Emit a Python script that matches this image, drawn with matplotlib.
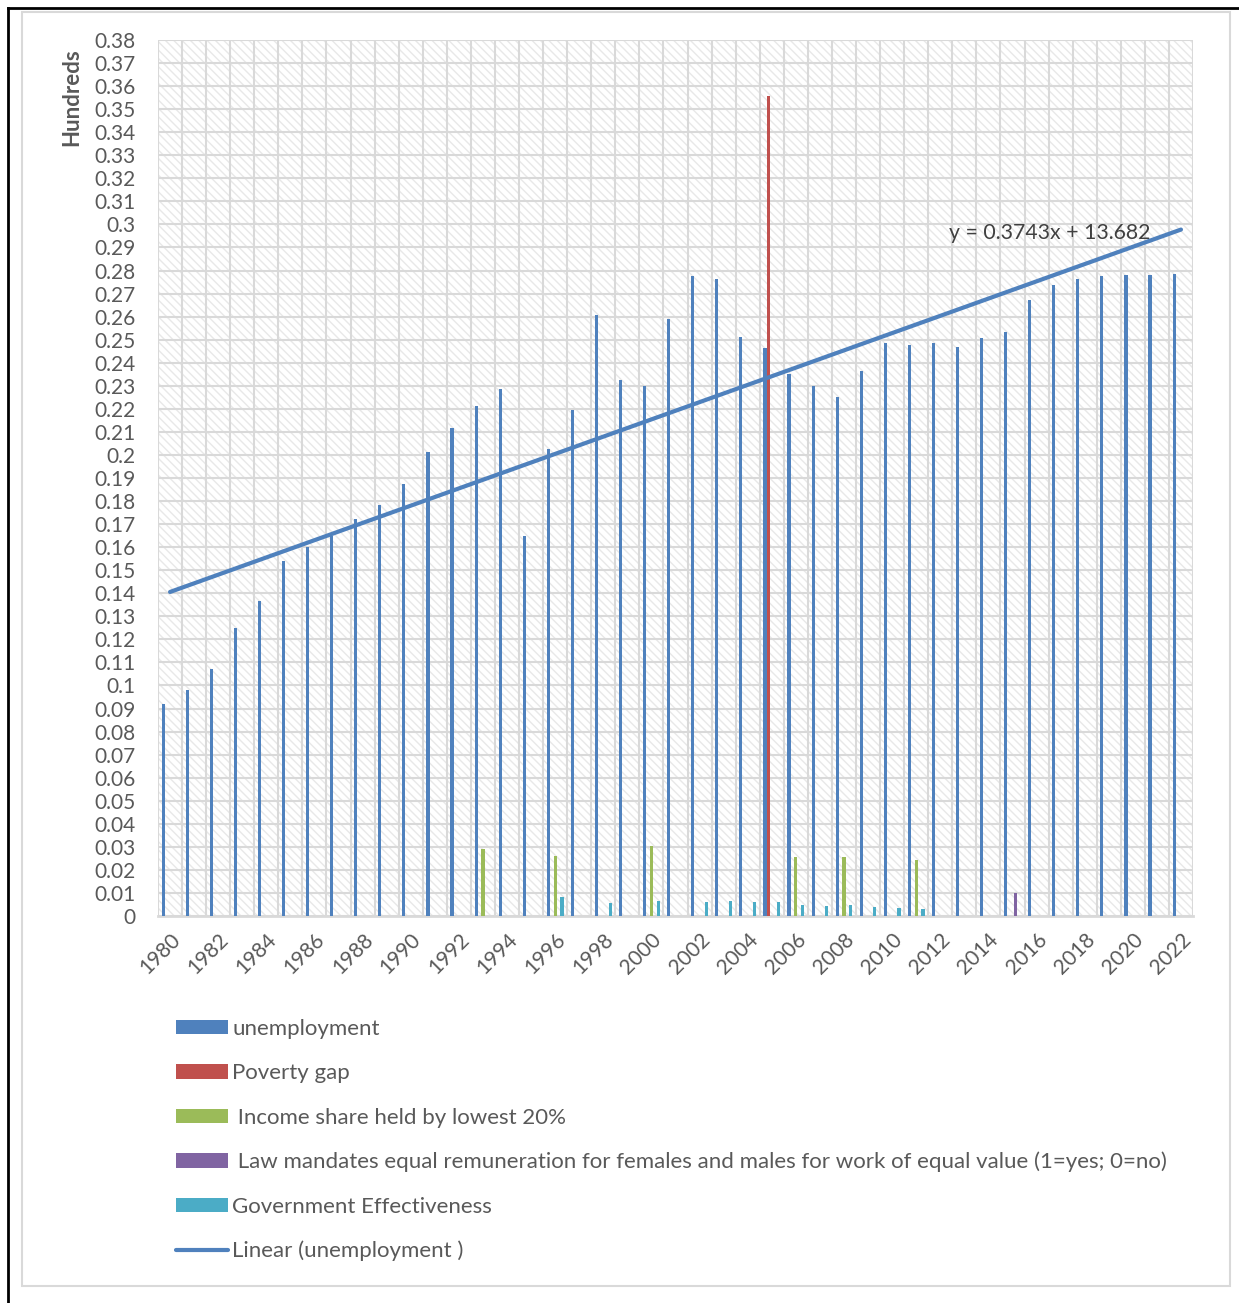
import matplotlib
matplotlib.use("Agg")
import matplotlib.pyplot as plt
import numpy as np
from matplotlib.patches import Rectangle
from matplotlib.lines import Line2D

plt.rcParams['font.family'] = ['Lato', 'DejaVu Sans']
plt.rcParams['hatch.linewidth'] = 1.0

# values in percent, axis shows them in hundreds
years = list(range(1980, 2023))
unemployment = [9.21, 9.79, 10.72, 12.51, 13.67, 15.41, 15.99, 16.48, 17.20, 17.81,
                18.74, 20.14, 21.17, 22.14, 22.86, 16.48, 20.26, 21.96, 26.07, 23.27,
                22.98, 25.91, 27.78, 27.64, 25.12, 24.63, 23.51, 22.98, 22.50, 23.66,
                24.85, 24.77, 24.85, 24.70, 25.08, 25.32, 26.70, 27.36, 27.64, 27.77,
                27.81, 27.81, 27.84]

poverty_years = [2005]
poverty_gap = [35.58]

income_years = [1993, 1996, 2000, 2006, 2008, 2011]
income_share = [2.89, 2.61, 3.02, 2.54, 2.55, 2.41]

law_years = [2015]
law_equal_pay = [1.0]

gov_years = [1996, 1998, 2000, 2002, 2003, 2004, 2005, 2006, 2007, 2008, 2009, 2010, 2011]
gov_effectiveness = [0.83, 0.55, 0.64, 0.60, 0.64, 0.62, 0.61, 0.47, 0.45, 0.49, 0.41, 0.34, 0.32]

trend_slope = 0.3743
trend_intercept = 13.682

series = [
    ("unemployment", years, unemployment, "#4f81bd"),
    ("Poverty gap", poverty_years, poverty_gap, "#c0504d"),
    (" Income share held by lowest 20%", income_years, income_share, "#9bbb59"),
    (" Law mandates equal remuneration for females and males for work of equal value (1=yes; 0=no)",
     law_years, law_equal_pay, "#8064a2"),
    ("Government Effectiveness", gov_years, gov_effectiveness, "#4bacc6"),
]

fig = plt.figure(figsize=(12.39, 13.03), dpi=100)
ax = fig.add_axes([158 / 1239, 1 - 916 / 1303, (1193 - 158) / 1239, (916 - 40) / 1303])

# hatched plot area
ax.add_patch(Rectangle((0, 0), 1, 1, transform=ax.transAxes, facecolor='white',
                       edgecolor='#e8e8e8', hatch=r'\\\\', lw=0, zorder=0))

step = 0.142
handles = []
for k, (name, yrs, vals, col) in enumerate(series):
    xs = np.array([years.index(y) for y in yrs]) + (k - 2) * step
    b = ax.bar(xs, np.array(vals) / 100, width=0.13, color=col, zorder=3, label=name)
    handles.append(b)

idx = np.arange(len(years))
trend = (trend_slope * (idx + 1) + trend_intercept) / 100
tl, = ax.plot(idx, trend, color='#4f81bd', lw=3, solid_capstyle='round', zorder=4,
              label='Linear (unemployment )')
handles.append(tl)
ax.text(32.36, 0.2963, 'y = 0.3743x + 13.682', color='#404040', fontsize=15.3,
        ha='left', va='center', zorder=5)

ax.set_xlim(-0.5, len(years) - 0.5)
ax.set_ylim(0, 0.38)

# grid: category boundaries and every 0.01
for x in np.arange(-0.5, len(years), 1.0):
    ax.axvline(x, color='#d9d9d9', lw=1.5, zorder=1)
yt = np.round(np.arange(0, 0.381, 0.01), 2)
for y in yt:
    ax.axhline(y, color='#d9d9d9', lw=1.5, zorder=1)

ax.set_yticks(yt)
ax.set_yticklabels(['0' if v == 0 else ('%g' % v) for v in yt])
ax.set_xticks(idx[::2])
ax.set_xticklabels([str(y) for y in years[::2]], rotation=45, ha='right',
                   rotation_mode='anchor')
ax.tick_params(axis='both', length=0, labelsize=15, labelcolor='#595959')
ax.tick_params(axis='y', pad=16)
ax.tick_params(axis='x', pad=10)
for s in ['top', 'right', 'left']:
    ax.spines[s].set_visible(False)
ax.spines['bottom'].set_color('#d9d9d9')
ax.spines['bottom'].set_linewidth(2)
ax.spines['bottom'].set_zorder(2)

fig.text(72 / 1239, 1 - 97 / 1303, 'Hundreds', rotation=90, ha='center', va='center',
         fontsize=16, fontweight='bold', color='#595959')

fig.legend(handles=handles, loc='upper left', bbox_to_anchor=(165 / 1239, 1 - 1008 / 1303),
           frameon=False, fontsize=16, handlelength=2.35, handleheight=0.6,
           handletextpad=0.18, labelspacing=1.09, borderpad=0, labelcolor='#595959')

# outer chart frame
fig.add_artist(Rectangle((22 / 1239, 1 - 1286 / 1303), (1230 - 22) / 1239, (1286 - 12) / 1303,
                         transform=fig.transFigure, fill=False, edgecolor='#d9d9d9', lw=1.5))
fig.add_artist(Line2D([8 / 1239, 8 / 1239], [0, 1 - 8 / 1303], transform=fig.transFigure,
                      color='black', lw=2))
fig.add_artist(Line2D([8 / 1239, 1], [1 - 8 / 1303, 1 - 8 / 1303], transform=fig.transFigure,
                      color='black', lw=2))

fig.savefig('out.png', dpi=100)
